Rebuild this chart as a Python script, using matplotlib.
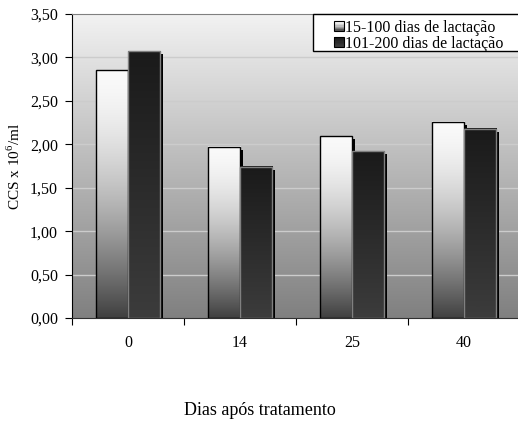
import numpy as np
import matplotlib
matplotlib.use("Agg")
import matplotlib.pyplot as plt
from matplotlib.patches import Rectangle
from matplotlib.legend_handler import HandlerBase
from matplotlib import transforms

plt.rcParams['font.family'] = ['Liberation Serif', 'DejaVu Serif']
plt.rcParams['mathtext.fontset'] = 'custom'
plt.rcParams['mathtext.rm'] = 'Liberation Serif'

# dados
dias = ['0', '14', '25', '40']
serie_15_100 = [2.85, 1.97, 2.09, 2.26]
serie_101_200 = [3.07, 1.74, 1.92, 2.18]
nomes = ['15-100 dias de lactação', '101-200 dias de lactação']
yticks = [0.0, 0.5, 1.0, 1.5, 2.0, 2.5, 3.0, 3.5]

# gradientes (baixo -> cima)
f = np.linspace(0, 1, 256)
cinza_claro = 64 + 186 * (1 - (1 - f) ** 1.6)
cinza_escuro = 0x3c + (0x1a - 0x3c) * f
fundo = 0x80 + (0xf2 - 0x80) * f

def col(v):
    v = np.clip(v / 255, 0, 1)
    return np.dstack([v, v, v]).reshape(-1, 1, 3)

fig = plt.figure(figsize=(5.18, 4.23), dpi=100)
ax = fig.add_axes([72 / 518, 1 - 318 / 423, 448 / 518, 304 / 423])

x = np.arange(len(dias))
w = 0.286

ax.imshow(col(fundo), extent=(0, 1, 0, 1), transform=ax.transAxes, origin='lower',
          aspect='auto', zorder=0, interpolation='bilinear')

for v in yticks[1:-1]:
    ax.axhline(v, color='#cccccc', lw=1, zorder=1)

sombra = transforms.offset_copy(ax.transData, fig=fig, x=3, y=-3, units='dots')

for i, (vals, grad, ec, off) in enumerate([
        (serie_15_100, cinza_claro, 'black', -w / 2),
        (serie_101_200, cinza_escuro, '#808080', w / 2)]):
    z = 2 + i * 3
    barras = ax.bar(x + off, vals, w, facecolor='none', edgecolor=ec,
                    lw=1, zorder=z + 2)
    for b in barras:
        sh = Rectangle((b.get_x(), b.get_y()), b.get_width(), b.get_height(),
                       transform=sombra, facecolor='black', edgecolor='none',
                       zorder=z)
        ax.add_patch(sh)
        ax.imshow(col(grad), extent=(b.get_x(), b.get_x() + b.get_width(),
                                     0, b.get_height()),
                  origin='lower', aspect='auto', zorder=z + 1,
                  interpolation='bilinear')

ax.set_xlim(-0.5, len(dias) - 0.5)
ax.set_ylim(0, 3.5)

ax.set_yticks(yticks)
ax.set_yticklabels([f'{v:.2f}'.replace('.', ',') for v in yticks])
ax.set_xticks(np.arange(len(dias) + 1) - 0.5)
ax.set_xticklabels([])
ax.set_xticks(x, minor=True)
ax.set_xticklabels(dias, minor=True)
ax.tick_params(axis='x', which='major', length=5, direction='out')
ax.tick_params(axis='x', which='minor', length=0, pad=12, labelsize=11.5)
ax.tick_params(axis='y', length=5, direction='out', pad=5, labelsize=11.5)

ax.spines['top'].set_color('#808080')
ax.spines['right'].set_visible(False)
ax.spines['left'].set_color('black')
ax.spines['bottom'].set_color('#303030')
for s in ax.spines.values():
    s.set_zorder(10)

ax.set_ylabel(r'CCS x 10$^6$/ml', fontsize=11)
ax.yaxis.set_label_coords((23 - 72) / 448, 0.5)
fig.text(260 / 518, 1 - 410 / 423, 'Dias após tratamento', ha='center',
         va='center', fontsize=13)


class Quadrado(HandlerBase):
    def __init__(self, grad):
        super().__init__()
        self.grad = grad

    def create_artists(self, legend, orig, xd, yd, wd, hd, fs, trans):
        s = 7
        x0 = wd - s - xd
        y0 = -yd + hd / 2 - s / 2
        arts = []
        n = 7
        for k in range(n):
            v = np.interp((k + 0.5) / n, f, self.grad) / 255
            arts.append(Rectangle((x0, y0 + k * s / n), s, s / n,
                                  facecolor=(v, v, v), edgecolor='none',
                                  transform=trans))
        arts.append(Rectangle((x0, y0), s, s, facecolor='none',
                              edgecolor='black', lw=0.8, transform=trans))
        return arts


# caixa da legenda
fig.patches.append(Rectangle((312.7 / 518, 1 - 50.7 / 423), 0.5, 36.7 / 423,
                             transform=fig.transFigure, facecolor='white',
                             edgecolor='black', lw=1, zorder=1))
h1 = Rectangle((0, 0), 1, 1)
h2 = Rectangle((0, 0), 1, 1)
fig.legend([h1, h2], nomes, loc='upper left',
           bbox_to_anchor=(312.7 / 518, 1 - 10 / 423), frameon=False,
           borderpad=0.1, fontsize=11.5, handlelength=1.35, handletextpad=0.05,
           labelspacing=0.0,
           handler_map={h1: Quadrado(cinza_claro), h2: Quadrado(cinza_escuro)})

fig.savefig('out.png', dpi=100)
